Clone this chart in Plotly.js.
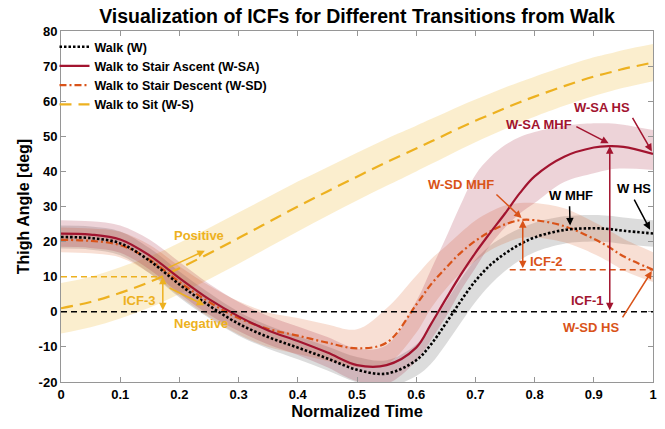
<!DOCTYPE html>
<html>
<head>
<meta charset="utf-8">
<script src="https://cdn.plot.ly/plotly-3.0.1.min.js"></script>
<style>html,body{margin:0;padding:0;background:#fff;}#chart{width:665px;height:429px;}</style>
</head>
<body>
<div id="chart"></div>
<script>
// Normalized time samples
const t = [0,0.05,0.1,0.15,0.2,0.25,0.3,0.35,0.4,0.45,0.5,0.55,0.6,0.625,0.65,0.675,0.7,0.725,0.75,0.775,0.8,0.85,0.9,0.925,0.95,1.0];

// Walk (W)
const walkMean = [21.3,21.0,19.5,14.5,7.8,1.8,-3.4,-7.2,-10.2,-13.3,-16.5,-17.6,-13.8,-9.3,-3.3,3.0,8.8,13.3,16.6,19.2,21.2,23.3,23.8,23.6,23.1,22.3];
const walkSd   = [3.3,3.3,3.4,3.6,3.7,3.6,3.4,3.3,3.3,3.4,3.6,3.8,4.5,5.5,6.0,6.2,6.0,5.6,5.0,4.5,4.2,3.9,3.8,3.8,3.8,3.8];

// Walk to Stair Ascent (W-SA)
const wsaMean  = [22.3,22.0,20.6,16.0,9.6,3.6,-1.3,-5.3,-8.3,-11.6,-15.2,-15.2,-10.2,-3.5,3.6,10.5,16.8,22.5,28.0,33.8,38.6,44.2,46.8,47.2,47.0,45.0];
const wsaUpper = [26.1,25.8,24.6,20.5,14.2,8.0,2.8,-1.2,-4.2,-7.2,-10.5,-9.5,3.0,12.0,21.0,30.5,39.0,44.0,47.5,49.8,51.2,53.0,53.7,53.7,53.3,51.8];
const wsaLower = [18.5,18.2,16.8,12.0,5.2,-0.8,-5.5,-9.3,-12.3,-15.8,-19.8,-20.5,-14.0,-8.0,-1.5,6.0,12.5,19.0,24.0,28.0,31.0,37.0,39.5,40.5,40.8,40.4];

// Walk to Stair Descent (W-SD)
const wsdMean  = [20.5,20.2,19.0,14.8,8.5,2.8,-1.8,-4.9,-6.8,-8.8,-10.4,-8.8,2.0,7.8,12.5,16.8,20.2,22.9,24.9,26.1,26.1,24.4,20.8,18.5,15.8,12.0];
const wsdUpper = [24.0,23.7,22.8,19.0,13.0,7.5,3.0,-0.2,-1.8,-3.6,-5.0,1.0,10.3,15.0,18.7,22.5,26.0,28.5,30.3,31.0,31.0,29.5,25.6,23.3,20.8,17.0];
const wsdLower = [17.0,16.7,15.5,11.0,4.5,-1.5,-6.5,-10.0,-12.0,-14.0,-15.8,-15.0,-6.0,1.0,6.5,11.0,14.5,17.5,19.5,21.0,21.2,19.8,16.5,14.3,11.8,8.5];

// Walk to Sit (W-S)
const wsMean = [1.0,2.8,5.4,8.5,12.4,16.6,21.0,25.5,30.0,34.3,38.5,42.6,46.5,48.5,50.5,52.5,54.4,56.2,58.0,59.7,61.3,64.3,67.0,68.1,69.2,71.0];
const wsSd   = [7.2,7.2,7.3,7.3,7.3,7.3,7.3,7.2,7.1,6.9,6.8,6.7,6.5,6.4,6.3,6.2,6.1,6.0,5.9,5.8,5.7,5.6,5.5,5.4,5.4,5.3];

const xTicks = [0,0.1,0.2,0.3,0.4,0.5,0.6,0.7,0.8,0.9,1];
const yTicks = [-20,-10,0,10,20,30,40,50,60,70,80];

const C_W = 'rgb(0,0,0)';
const C_SA = 'rgb(162,20,47)';
const C_SD = 'rgb(217,83,25)';
const C_S = 'rgb(237,177,32)';

function add(a, b, s) { return a.map((v, i) => v + s * b[i]); }

function band(upper, lower, fillcolor) {
  return [
    {x: t, y: upper, type: 'scatter', mode: 'lines', line: {width: 0, shape: 'spline'}, hoverinfo: 'skip', showlegend: false},
    {x: t, y: lower, type: 'scatter', mode: 'lines', line: {width: 0, shape: 'spline'}, fill: 'tonexty', fillcolor: fillcolor, hoverinfo: 'skip', showlegend: false}
  ];
}

const traces = [].concat(
  band(add(wsMean, wsSd, 1), add(wsMean, wsSd, -1), 'rgba(237,177,32,0.22)'),
  band(add(walkMean, walkSd, 1), add(walkMean, walkSd, -1), 'rgba(120,120,120,0.26)'),
  band(wsdUpper, wsdLower, 'rgba(217,83,25,0.19)'),
  band(wsaUpper, wsaLower, 'rgba(162,20,47,0.19)'),
  [
    {x: t, y: wsMean, type: 'scatter', mode: 'lines', name: 'Walk to Sit (W-S)', legendrank: 4,
     line: {color: C_S, width: 2.2, dash: '12px,7px', shape: 'spline'}},
    {x: t, y: wsdMean, type: 'scatter', mode: 'lines', name: 'Walk to Stair Descent (W-SD)', legendrank: 3,
     line: {color: C_SD, width: 2.2, dash: '7px,3px,2px,3px', shape: 'spline'}},
    {x: t, y: wsaMean, type: 'scatter', mode: 'lines', name: 'Walk to Stair Ascent (W-SA)', legendrank: 2,
     line: {color: C_SA, width: 2.2, shape: 'spline'}},
    {x: t, y: walkMean, type: 'scatter', mode: 'lines', name: 'Walk (W)', legendrank: 1,
     line: {color: C_W, width: 2.6, dash: '2.5px,2px', shape: 'spline'}}
  ]
);

const F = 'Arial, "Liberation Sans", Helvetica, sans-serif';

function arrow(x0, y0, x1, y1, color, both) {
  return {x: x1, y: y1, ax: x0, ay: y0, xref: 'x', yref: 'y', axref: 'x', ayref: 'y',
    text: '', showarrow: true, arrowhead: 2, arrowsize: 1, arrowwidth: 1.5, arrowcolor: color,
    arrowside: both ? 'end+start' : 'end', startarrowhead: 2, startarrowsize: 1, standoff: 0, startstandoff: 0};
}
function label(x, y, text, color) {
  return {x: x, y: y, xref: 'x', yref: 'y', text: text, showarrow: false,
    font: {family: F, size: 13, color: color, weight: 'bold'}};
}

const annotations = [
  arrow(0.172, 0, 0.172, 10, C_S, true),
  arrow(0.179, 12.4, 0.243, 17.4, C_S, false),
  arrow(0.181, 7.0, 0.242, 1.9, C_S, false),
  label(0.133, 3.2, 'ICF-3', C_S),
  label(0.233, 21.7, 'Positive', C_S),
  label(0.237, -3.4, 'Negative', C_S),

  arrow(0.78, 12, 0.78, 26.1, C_SD, true),
  label(0.82, 14.3, 'ICF-2', C_SD),
  arrow(0.733, 33.8, 0.778, 26.7, C_SD, false),
  label(0.675, 36.3, 'W-SD MHF', C_SD),
  arrow(0.947, -2.0, 0.998, 11.6, C_SD, false),
  label(0.895, -4.6, 'W-SD HS', C_SD),

  arrow(0.927, 0, 0.927, 47.2, C_SA, true),
  label(0.89, 3.1, 'ICF-1', C_SA),
  arrow(0.868, 53.0, 0.925, 48.0, C_SA, false),
  label(0.807, 53.5, 'W-SA MHF', C_SA),
  arrow(0.964, 55.7, 0.998, 45.7, C_SA, false),
  label(0.913, 58.2, 'W-SA HS', C_SA),

  arrow(0.859, 30.5, 0.86, 24.6, C_W, false),
  label(0.861, 33.0, 'W MHF', C_W),
  arrow(0.967, 32.4, 0.995, 23.4, C_W, false),
  label(0.968, 35.0, 'W HS', C_W)
];

const shapes = [
  {type: 'line', xref: 'x', yref: 'y', x0: 0, x1: 1, y0: 0, y1: 0, layer: 'above',
   line: {color: 'black', width: 1.5, dash: '6px,4px'}},
  {type: 'line', xref: 'x', yref: 'y', x0: 0, x1: 0.172, y0: 10, y1: 10, layer: 'above',
   line: {color: C_S, width: 1.5, dash: '6px,4px'}},
  {type: 'line', xref: 'x', yref: 'y', x0: 0.758, x1: 1, y0: 12, y1: 12, layer: 'above',
   line: {color: C_SD, width: 1.5, dash: '6px,4px'}}
];

const axisCommon = {
  showgrid: false, zeroline: false, showline: true, linecolor: 'rgb(150,150,150)', linewidth: 1,
  mirror: 'allticks', ticks: 'inside', ticklen: 5, tickwidth: 1, tickcolor: 'rgb(150,150,150)',
  tickfont: {family: F, size: 13, color: 'black', weight: 'bold'}
};

const layout = {
  width: 665, height: 429,
  margin: {l: 61, r: 12, t: 31, b: 47},
  paper_bgcolor: 'white', plot_bgcolor: 'white',
  title: {text: 'Visualization of ICFs for Different Transitions from Walk',
    font: {family: F, size: 19.5, color: 'black', weight: 'bold'},
    x: 0.5, xref: 'paper', xanchor: 'center', y: 0.963, yref: 'container', yanchor: 'middle'},
  xaxis: Object.assign({}, axisCommon, {range: [0, 1], tickvals: xTicks, ticktext: xTicks.map(String),
    title: {text: 'Normalized Time', font: {family: F, size: 16.5, color: 'black', weight: 'bold'}, standoff: 4}}),
  yaxis: Object.assign({}, axisCommon, {range: [-20, 80], tickvals: yTicks, ticktext: yTicks.map(String),
    title: {text: 'Thigh Angle [deg]', font: {family: F, size: 16, color: 'black', weight: 'bold'}, standoff: 5}}),
  showlegend: true,
  legend: {x: -0.011, y: 0.997, xanchor: 'left', yanchor: 'top', bgcolor: 'rgba(0,0,0,0)', traceorder: 'normal',
    font: {family: F, size: 12.5, color: 'black', weight: 'bold'}, itemwidth: 30, tracegroupgap: 0},
  annotations: annotations,
  shapes: shapes
};

Plotly.newPlot('chart', traces, layout, {displayModeBar: false, staticPlot: true});
</script>
</body>
</html>
